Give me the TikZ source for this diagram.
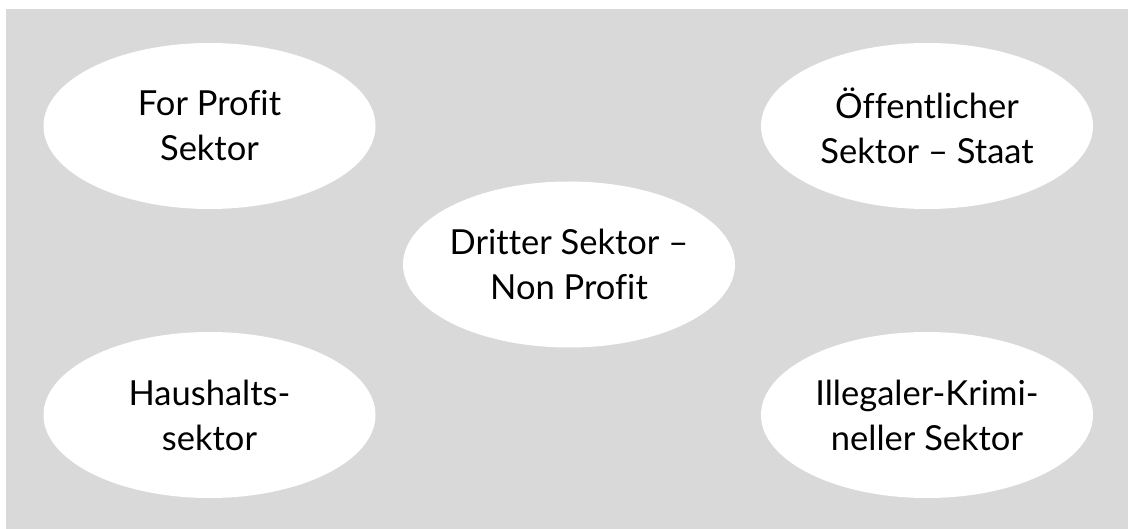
\documentclass[tikz,border=0pt]{standalone}
\usepackage{fontspec}
\setmainfont{Lato}[Ligatures=NoCommon]
\usetikzlibrary{shapes.geometric}
\definecolor{bggray}{HTML}{D9D9D9}
\tikzset{
  sector/.style={ellipse, fill=white, draw=none, minimum width=332pt, minimum height=166pt, inner sep=0pt},
  sectortext/.style={inner sep=0pt, align=center, font=\fontsize{34.5}{45}\selectfont, text=black}
}
\begin{document}
\begin{tikzpicture}[x=1pt,y=-1pt]
\useasboundingbox (0,0) rectangle (1128,529);
\fill[bggray] (6,9) rectangle (1128,529);
\node[sector] (fp) at (209.5,126) {};
\node[sector] (os) at (927,126) {};
\node[sector] (ds) at (569,264.5) {};
\node[sector] (hs) at (209.5,415) {};
\node[sector] (ik) at (927,415) {};
\node[sectortext] (fpt) at (fp) {For Profit\\Sektor};
\node[sectortext] (ost) at (os) {Öffentlicher\\Sektor – Staat};
\node[sectortext] (dst) at (ds) {Dritter Sektor –\\Non Profit};
\node[sectortext] (hst) at (hs) {Haushalts-\\sektor};
\node[sectortext] (ikt) at (ik) {Illegaler-Krimi-\\neller Sektor};
\end{tikzpicture}
\end{document}
